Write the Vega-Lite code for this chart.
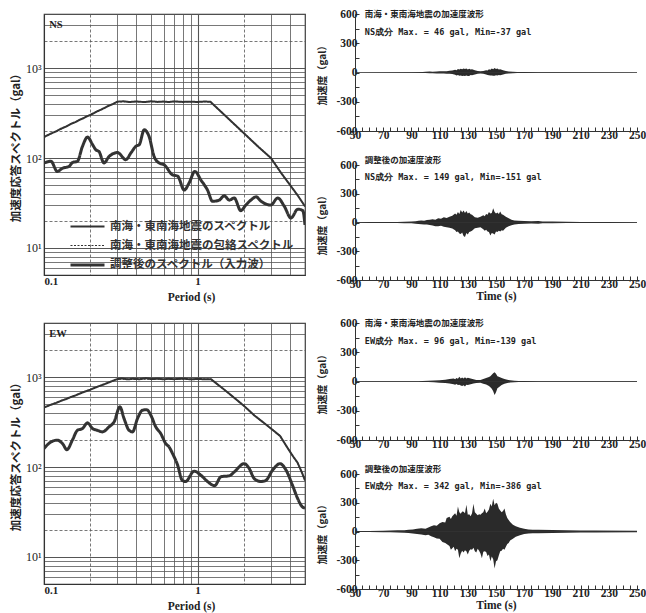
{
  "$schema": "https://vega.github.io/schema/vega-lite/v6.json",
  "background": "white",
  "padding": {"left": 9, "top": 7, "right": 0, "bottom": 0},
  "datasets": {
    "spec": [
      {"c":"NS","s":"S","T":0.1,"Sa":171},{"c":"NS","s":"S","T":0.11,"Sa":186},{"c":"NS","s":"S","T":0.12,"Sa":198},{"c":"NS","s":"S","T":0.13,"Sa":213},{"c":"NS","s":"S","T":0.14,"Sa":225},{"c":"NS","s":"S","T":0.15,"Sa":240},{"c":"NS","s":"S","T":0.16,"Sa":251},{"c":"NS","s":"S","T":0.17,"Sa":266},{"c":"NS","s":"S","T":0.18,"Sa":277},{"c":"NS","s":"S","T":0.19,"Sa":291},{"c":"NS","s":"S","T":0.2,"Sa":301},{"c":"NS","s":"S","T":0.22,"Sa":328},{"c":"NS","s":"S","T":0.24,"Sa":351},{"c":"NS","s":"S","T":0.26,"Sa":377},{"c":"NS","s":"S","T":0.28,"Sa":398},{"c":"NS","s":"S","T":0.3,"Sa":423},{"c":"NS","s":"S","T":0.33,"Sa":428},{"c":"NS","s":"S","T":0.36,"Sa":420},{"c":"NS","s":"S","T":0.4,"Sa":426},{"c":"NS","s":"S","T":0.45,"Sa":419},{"c":"NS","s":"S","T":0.5,"Sa":428},{"c":"NS","s":"S","T":0.55,"Sa":421},{"c":"NS","s":"S","T":0.6,"Sa":425},{"c":"NS","s":"S","T":0.65,"Sa":420},{"c":"NS","s":"S","T":0.7,"Sa":427},{"c":"NS","s":"S","T":0.8,"Sa":421},{"c":"NS","s":"S","T":0.9,"Sa":424},{"c":"NS","s":"S","T":1.0,"Sa":420},{"c":"NS","s":"S","T":1.1,"Sa":425},{"c":"NS","s":"S","T":1.21,"Sa":423},{"c":"NS","s":"S","T":1.5,"Sa":300},{"c":"NS","s":"S","T":2.0,"Sa":189},{"c":"NS","s":"S","T":2.5,"Sa":132},{"c":"NS","s":"S","T":3.0,"Sa":100},{"c":"NS","s":"S","T":3.5,"Sa":68},{"c":"NS","s":"S","T":4.0,"Sa":50},{"c":"NS","s":"S","T":4.5,"Sa":38},{"c":"NS","s":"S","T":5.0,"Sa":29},
      {"c":"NS","s":"E","T":0.1,"Sa":171},{"c":"NS","s":"E","T":0.3,"Sa":423},{"c":"NS","s":"E","T":1.21,"Sa":423},{"c":"NS","s":"E","T":1.5,"Sa":300},{"c":"NS","s":"E","T":2.0,"Sa":189},{"c":"NS","s":"E","T":2.5,"Sa":132},{"c":"NS","s":"E","T":3.0,"Sa":100},{"c":"NS","s":"E","T":3.5,"Sa":68},{"c":"NS","s":"E","T":4.0,"Sa":50},{"c":"NS","s":"E","T":4.5,"Sa":38},{"c":"NS","s":"E","T":5.0,"Sa":29},
      {"c":"NS","s":"A","T":0.1,"Sa":88},{"c":"NS","s":"A","T":0.111,"Sa":92},{"c":"NS","s":"A","T":0.122,"Sa":71},{"c":"NS","s":"A","T":0.132,"Sa":77},{"c":"NS","s":"A","T":0.146,"Sa":81},{"c":"NS","s":"A","T":0.153,"Sa":89},{"c":"NS","s":"A","T":0.165,"Sa":92},{"c":"NS","s":"A","T":0.178,"Sa":135},{"c":"NS","s":"A","T":0.192,"Sa":171},{"c":"NS","s":"A","T":0.207,"Sa":141},{"c":"NS","s":"A","T":0.217,"Sa":124},{"c":"NS","s":"A","T":0.228,"Sa":118},{"c":"NS","s":"A","T":0.246,"Sa":88},{"c":"NS","s":"A","T":0.265,"Sa":104},{"c":"NS","s":"A","T":0.301,"Sa":115},{"c":"NS","s":"A","T":0.341,"Sa":96},{"c":"NS","s":"A","T":0.368,"Sa":114},{"c":"NS","s":"A","T":0.396,"Sa":135},{"c":"NS","s":"A","T":0.417,"Sa":141},{"c":"NS","s":"A","T":0.449,"Sa":206},{"c":"NS","s":"A","T":0.483,"Sa":174},{"c":"NS","s":"A","T":0.521,"Sa":104},{"c":"NS","s":"A","T":0.562,"Sa":88},{"c":"NS","s":"A","T":0.606,"Sa":84},{"c":"NS","s":"A","T":0.687,"Sa":65},{"c":"NS","s":"A","T":0.741,"Sa":63},{"c":"NS","s":"A","T":0.818,"Sa":44},{"c":"NS","s":"A","T":0.881,"Sa":53},{"c":"NS","s":"A","T":0.96,"Sa":71},{"c":"NS","s":"A","T":1.05,"Sa":57},{"c":"NS","s":"A","T":1.16,"Sa":44},{"c":"NS","s":"A","T":1.25,"Sa":33},{"c":"NS","s":"A","T":1.38,"Sa":34},{"c":"NS","s":"A","T":1.49,"Sa":38},{"c":"NS","s":"A","T":1.61,"Sa":34},{"c":"NS","s":"A","T":1.73,"Sa":36},{"c":"NS","s":"A","T":1.91,"Sa":26},{"c":"NS","s":"A","T":2.06,"Sa":30},{"c":"NS","s":"A","T":2.22,"Sa":34},{"c":"NS","s":"A","T":2.4,"Sa":37},{"c":"NS","s":"A","T":2.59,"Sa":33},{"c":"NS","s":"A","T":3.0,"Sa":30},{"c":"NS","s":"A","T":3.32,"Sa":36},{"c":"NS","s":"A","T":3.67,"Sa":29},{"c":"NS","s":"A","T":4.05,"Sa":21.5},{"c":"NS","s":"A","T":4.49,"Sa":27},{"c":"NS","s":"A","T":4.84,"Sa":26},{"c":"NS","s":"A","T":5.0,"Sa":18},
      {"c":"EW","s":"S","T":0.1,"Sa":460},{"c":"EW","s":"S","T":0.11,"Sa":491},{"c":"EW","s":"S","T":0.12,"Sa":517},{"c":"EW","s":"S","T":0.13,"Sa":548},{"c":"EW","s":"S","T":0.14,"Sa":572},{"c":"EW","s":"S","T":0.15,"Sa":602},{"c":"EW","s":"S","T":0.16,"Sa":625},{"c":"EW","s":"S","T":0.18,"Sa":680},{"c":"EW","s":"S","T":0.2,"Sa":725},{"c":"EW","s":"S","T":0.22,"Sa":776},{"c":"EW","s":"S","T":0.25,"Sa":840},{"c":"EW","s":"S","T":0.28,"Sa":910},{"c":"EW","s":"S","T":0.3,"Sa":950},{"c":"EW","s":"S","T":0.32,"Sa":968},{"c":"EW","s":"S","T":0.35,"Sa":945},{"c":"EW","s":"S","T":0.38,"Sa":958},{"c":"EW","s":"S","T":0.42,"Sa":948},{"c":"EW","s":"S","T":0.46,"Sa":975},{"c":"EW","s":"S","T":0.5,"Sa":950},{"c":"EW","s":"S","T":0.55,"Sa":962},{"c":"EW","s":"S","T":0.6,"Sa":945},{"c":"EW","s":"S","T":0.65,"Sa":958},{"c":"EW","s":"S","T":0.7,"Sa":948},{"c":"EW","s":"S","T":0.8,"Sa":962},{"c":"EW","s":"S","T":0.9,"Sa":945},{"c":"EW","s":"S","T":1.0,"Sa":955},{"c":"EW","s":"S","T":1.1,"Sa":948},{"c":"EW","s":"S","T":1.22,"Sa":950},{"c":"EW","s":"S","T":1.5,"Sa":720},{"c":"EW","s":"S","T":1.75,"Sa":580},{"c":"EW","s":"S","T":2.0,"Sa":480},{"c":"EW","s":"S","T":2.34,"Sa":375},{"c":"EW","s":"S","T":2.8,"Sa":295},{"c":"EW","s":"S","T":3.44,"Sa":222},{"c":"EW","s":"S","T":3.86,"Sa":162},{"c":"EW","s":"S","T":4.2,"Sa":130},{"c":"EW","s":"S","T":4.47,"Sa":112},{"c":"EW","s":"S","T":4.8,"Sa":85},{"c":"EW","s":"S","T":5.0,"Sa":71},
      {"c":"EW","s":"E","T":0.1,"Sa":460},{"c":"EW","s":"E","T":0.3,"Sa":950},{"c":"EW","s":"E","T":1.22,"Sa":950},{"c":"EW","s":"E","T":1.5,"Sa":720},{"c":"EW","s":"E","T":1.75,"Sa":580},{"c":"EW","s":"E","T":2.0,"Sa":480},{"c":"EW","s":"E","T":2.34,"Sa":375},{"c":"EW","s":"E","T":2.8,"Sa":295},{"c":"EW","s":"E","T":3.44,"Sa":222},{"c":"EW","s":"E","T":3.86,"Sa":162},{"c":"EW","s":"E","T":4.2,"Sa":130},{"c":"EW","s":"E","T":4.47,"Sa":112},{"c":"EW","s":"E","T":4.8,"Sa":85},{"c":"EW","s":"E","T":5.0,"Sa":71},
      {"c":"EW","s":"A","T":0.1,"Sa":161},{"c":"EW","s":"A","T":0.111,"Sa":190},{"c":"EW","s":"A","T":0.122,"Sa":199},{"c":"EW","s":"A","T":0.132,"Sa":182},{"c":"EW","s":"A","T":0.141,"Sa":156},{"c":"EW","s":"A","T":0.153,"Sa":199},{"c":"EW","s":"A","T":0.165,"Sa":256},{"c":"EW","s":"A","T":0.178,"Sa":268},{"c":"EW","s":"A","T":0.192,"Sa":310},{"c":"EW","s":"A","T":0.207,"Sa":268},{"c":"EW","s":"A","T":0.223,"Sa":256},{"c":"EW","s":"A","T":0.24,"Sa":246},{"c":"EW","s":"A","T":0.265,"Sa":280},{"c":"EW","s":"A","T":0.286,"Sa":318},{"c":"EW","s":"A","T":0.312,"Sa":467},{"c":"EW","s":"A","T":0.332,"Sa":346},{"c":"EW","s":"A","T":0.358,"Sa":256},{"c":"EW","s":"A","T":0.377,"Sa":246},{"c":"EW","s":"A","T":0.406,"Sa":346},{"c":"EW","s":"A","T":0.437,"Sa":428},{"c":"EW","s":"A","T":0.466,"Sa":435},{"c":"EW","s":"A","T":0.496,"Sa":377},{"c":"EW","s":"A","T":0.534,"Sa":280},{"c":"EW","s":"A","T":0.576,"Sa":235},{"c":"EW","s":"A","T":0.62,"Sa":182},{"c":"EW","s":"A","T":0.651,"Sa":168},{"c":"EW","s":"A","T":0.687,"Sa":141},{"c":"EW","s":"A","T":0.741,"Sa":105},{"c":"EW","s":"A","T":0.795,"Sa":71},{"c":"EW","s":"A","T":0.834,"Sa":69},{"c":"EW","s":"A","T":0.949,"Sa":90},{"c":"EW","s":"A","T":1.05,"Sa":81},{"c":"EW","s":"A","T":1.16,"Sa":69},{"c":"EW","s":"A","T":1.29,"Sa":62},{"c":"EW","s":"A","T":1.42,"Sa":78},{"c":"EW","s":"A","T":1.61,"Sa":80},{"c":"EW","s":"A","T":1.73,"Sa":88},{"c":"EW","s":"A","T":2.01,"Sa":109},{"c":"EW","s":"A","T":2.17,"Sa":96},{"c":"EW","s":"A","T":2.34,"Sa":74},{"c":"EW","s":"A","T":2.59,"Sa":69},{"c":"EW","s":"A","T":2.78,"Sa":71},{"c":"EW","s":"A","T":3.07,"Sa":92},{"c":"EW","s":"A","T":3.44,"Sa":109},{"c":"EW","s":"A","T":3.77,"Sa":92},{"c":"EW","s":"A","T":4.14,"Sa":63},{"c":"EW","s":"A","T":4.47,"Sa":45},{"c":"EW","s":"A","T":4.81,"Sa":36},{"c":"EW","s":"A","T":5.0,"Sa":35}
    ],
    "wave": [
      {"c":"NS","k":"o","t":50,"hi":1,"lo":-1},{"c":"NS","k":"o","t":90,"hi":2,"lo":-2},{"c":"NS","k":"o","t":95,"hi":4,"lo":-3},{"c":"NS","k":"o","t":98,"hi":6,"lo":-5},{"c":"NS","k":"o","t":100,"hi":7,"lo":-6},{"c":"NS","k":"o","t":103,"hi":9,"lo":-7},{"c":"NS","k":"o","t":105,"hi":8,"lo":-8},{"c":"NS","k":"o","t":108,"hi":11,"lo":-9},{"c":"NS","k":"o","t":110,"hi":12,"lo":-10},{"c":"NS","k":"o","t":113,"hi":14,"lo":-11},{"c":"NS","k":"o","t":115,"hi":13,"lo":-12},{"c":"NS","k":"o","t":117,"hi":17,"lo":-14},{"c":"NS","k":"o","t":119,"hi":20,"lo":-16},{"c":"NS","k":"o","t":121,"hi":28,"lo":-22},{"c":"NS","k":"o","t":122,"hi":22,"lo":-30},{"c":"NS","k":"o","t":123,"hi":35,"lo":-26},{"c":"NS","k":"o","t":124,"hi":30,"lo":-34},{"c":"NS","k":"o","t":125,"hi":38,"lo":-30},{"c":"NS","k":"o","t":126,"hi":33,"lo":-36},{"c":"NS","k":"o","t":127,"hi":42,"lo":-33},{"c":"NS","k":"o","t":128,"hi":36,"lo":-37},{"c":"NS","k":"o","t":129,"hi":40,"lo":-31},{"c":"NS","k":"o","t":130,"hi":32,"lo":-35},{"c":"NS","k":"o","t":131,"hi":38,"lo":-36},{"c":"NS","k":"o","t":132,"hi":30,"lo":-26},{"c":"NS","k":"o","t":133,"hi":33,"lo":-28},{"c":"NS","k":"o","t":135,"hi":22,"lo":-20},{"c":"NS","k":"o","t":137,"hi":15,"lo":-14},{"c":"NS","k":"o","t":139,"hi":12,"lo":-10},{"c":"NS","k":"o","t":141,"hi":16,"lo":-12},{"c":"NS","k":"o","t":143,"hi":24,"lo":-20},{"c":"NS","k":"o","t":144,"hi":20,"lo":-26},{"c":"NS","k":"o","t":145,"hi":34,"lo":-28},{"c":"NS","k":"o","t":146,"hi":28,"lo":-32},{"c":"NS","k":"o","t":147,"hi":40,"lo":-30},{"c":"NS","k":"o","t":148,"hi":34,"lo":-33},{"c":"NS","k":"o","t":149,"hi":46,"lo":-34},{"c":"NS","k":"o","t":150,"hi":36,"lo":-28},{"c":"NS","k":"o","t":151,"hi":40,"lo":-30},{"c":"NS","k":"o","t":152,"hi":30,"lo":-25},{"c":"NS","k":"o","t":153,"hi":34,"lo":-28},{"c":"NS","k":"o","t":155,"hi":24,"lo":-20},{"c":"NS","k":"o","t":157,"hi":15,"lo":-13},{"c":"NS","k":"o","t":159,"hi":10,"lo":-9},{"c":"NS","k":"o","t":162,"hi":8,"lo":-7},{"c":"NS","k":"o","t":165,"hi":6,"lo":-5},{"c":"NS","k":"o","t":170,"hi":5,"lo":-4},{"c":"NS","k":"o","t":175,"hi":4,"lo":-3},{"c":"NS","k":"o","t":180,"hi":3,"lo":-3},{"c":"NS","k":"o","t":190,"hi":2,"lo":-2},{"c":"NS","k":"o","t":250,"hi":1,"lo":-1},
      {"c":"NS","k":"a","t":50,"hi":3,"lo":-3},{"c":"NS","k":"a","t":60,"hi":4,"lo":-4},{"c":"NS","k":"a","t":70,"hi":5,"lo":-5},{"c":"NS","k":"a","t":80,"hi":6,"lo":-6},{"c":"NS","k":"a","t":85,"hi":8,"lo":-7},{"c":"NS","k":"a","t":90,"hi":10,"lo":-9},{"c":"NS","k":"a","t":93,"hi":14,"lo":-12},{"c":"NS","k":"a","t":95,"hi":17,"lo":-15},{"c":"NS","k":"a","t":97,"hi":22,"lo":-18},{"c":"NS","k":"a","t":99,"hi":18,"lo":-20},{"c":"NS","k":"a","t":101,"hi":25,"lo":-22},{"c":"NS","k":"a","t":103,"hi":30,"lo":-26},{"c":"NS","k":"a","t":105,"hi":35,"lo":-30},{"c":"NS","k":"a","t":107,"hi":30,"lo":-38},{"c":"NS","k":"a","t":109,"hi":45,"lo":-40},{"c":"NS","k":"a","t":111,"hi":40,"lo":-35},{"c":"NS","k":"a","t":113,"hi":55,"lo":-45},{"c":"NS","k":"a","t":115,"hi":48,"lo":-50},{"c":"NS","k":"a","t":117,"hi":60,"lo":-55},{"c":"NS","k":"a","t":119,"hi":70,"lo":-62},{"c":"NS","k":"a","t":121,"hi":95,"lo":-80},{"c":"NS","k":"a","t":122,"hi":80,"lo":-100},{"c":"NS","k":"a","t":123,"hi":110,"lo":-95},{"c":"NS","k":"a","t":124,"hi":90,"lo":-115},{"c":"NS","k":"a","t":125,"hi":130,"lo":-120},{"c":"NS","k":"a","t":126,"hi":105,"lo":-105},{"c":"NS","k":"a","t":127,"hi":125,"lo":-140},{"c":"NS","k":"a","t":128,"hi":100,"lo":-151},{"c":"NS","k":"a","t":129,"hi":120,"lo":-110},{"c":"NS","k":"a","t":130,"hi":95,"lo":-125},{"c":"NS","k":"a","t":131,"hi":105,"lo":-100},{"c":"NS","k":"a","t":132,"hi":85,"lo":-95},{"c":"NS","k":"a","t":133,"hi":80,"lo":-85},{"c":"NS","k":"a","t":135,"hi":55,"lo":-60},{"c":"NS","k":"a","t":137,"hi":50,"lo":-55},{"c":"NS","k":"a","t":139,"hi":60,"lo":-50},{"c":"NS","k":"a","t":141,"hi":75,"lo":-70},{"c":"NS","k":"a","t":142,"hi":65,"lo":-85},{"c":"NS","k":"a","t":143,"hi":90,"lo":-75},{"c":"NS","k":"a","t":144,"hi":80,"lo":-95},{"c":"NS","k":"a","t":145,"hi":110,"lo":-100},{"c":"NS","k":"a","t":146,"hi":95,"lo":-135},{"c":"NS","k":"a","t":147,"hi":100,"lo":-110},{"c":"NS","k":"a","t":148,"hi":149,"lo":-115},{"c":"NS","k":"a","t":149,"hi":110,"lo":-125},{"c":"NS","k":"a","t":150,"hi":95,"lo":-95},{"c":"NS","k":"a","t":151,"hi":105,"lo":-100},{"c":"NS","k":"a","t":152,"hi":90,"lo":-85},{"c":"NS","k":"a","t":153,"hi":115,"lo":-95},{"c":"NS","k":"a","t":154,"hi":85,"lo":-80},{"c":"NS","k":"a","t":155,"hi":80,"lo":-85},{"c":"NS","k":"a","t":157,"hi":60,"lo":-55},{"c":"NS","k":"a","t":159,"hi":45,"lo":-40},{"c":"NS","k":"a","t":161,"hi":30,"lo":-28},{"c":"NS","k":"a","t":163,"hi":22,"lo":-20},{"c":"NS","k":"a","t":166,"hi":18,"lo":-16},{"c":"NS","k":"a","t":170,"hi":15,"lo":-13},{"c":"NS","k":"a","t":175,"hi":12,"lo":-11},{"c":"NS","k":"a","t":180,"hi":16,"lo":-14},{"c":"NS","k":"a","t":183,"hi":10,"lo":-9},{"c":"NS","k":"a","t":190,"hi":10,"lo":-9},{"c":"NS","k":"a","t":200,"hi":7,"lo":-6},{"c":"NS","k":"a","t":210,"hi":5,"lo":-5},{"c":"NS","k":"a","t":230,"hi":4,"lo":-4},{"c":"NS","k":"a","t":250,"hi":3,"lo":-3},
      {"c":"EW","k":"o","t":50,"hi":1.5,"lo":-1.5},{"c":"EW","k":"o","t":95,"hi":2,"lo":-2},{"c":"EW","k":"o","t":98,"hi":4,"lo":-4},{"c":"EW","k":"o","t":102,"hi":7,"lo":-6},{"c":"EW","k":"o","t":106,"hi":10,"lo":-8},{"c":"EW","k":"o","t":110,"hi":14,"lo":-12},{"c":"EW","k":"o","t":114,"hi":18,"lo":-16},{"c":"EW","k":"o","t":117,"hi":25,"lo":-20},{"c":"EW","k":"o","t":120,"hi":30,"lo":-28},{"c":"EW","k":"o","t":121,"hi":22,"lo":-34},{"c":"EW","k":"o","t":122,"hi":36,"lo":-26},{"c":"EW","k":"o","t":123,"hi":28,"lo":-36},{"c":"EW","k":"o","t":124,"hi":48,"lo":-34},{"c":"EW","k":"o","t":125,"hi":30,"lo":-40},{"c":"EW","k":"o","t":126,"hi":40,"lo":-45},{"c":"EW","k":"o","t":127,"hi":32,"lo":-38},{"c":"EW","k":"o","t":128,"hi":44,"lo":-51},{"c":"EW","k":"o","t":129,"hi":30,"lo":-34},{"c":"EW","k":"o","t":130,"hi":38,"lo":-36},{"c":"EW","k":"o","t":132,"hi":30,"lo":-28},{"c":"EW","k":"o","t":134,"hi":22,"lo":-20},{"c":"EW","k":"o","t":136,"hi":16,"lo":-15},{"c":"EW","k":"o","t":139,"hi":15,"lo":-14},{"c":"EW","k":"o","t":141,"hi":25,"lo":-22},{"c":"EW","k":"o","t":143,"hi":35,"lo":-32},{"c":"EW","k":"o","t":145,"hi":45,"lo":-45},{"c":"EW","k":"o","t":146,"hi":55,"lo":-60},{"c":"EW","k":"o","t":147,"hi":68,"lo":-75},{"c":"EW","k":"o","t":148,"hi":85,"lo":-100},{"c":"EW","k":"o","t":149,"hi":96,"lo":-139},{"c":"EW","k":"o","t":150,"hi":80,"lo":-110},{"c":"EW","k":"o","t":151,"hi":55,"lo":-70},{"c":"EW","k":"o","t":152,"hi":50,"lo":-60},{"c":"EW","k":"o","t":154,"hi":35,"lo":-35},{"c":"EW","k":"o","t":156,"hi":25,"lo":-24},{"c":"EW","k":"o","t":158,"hi":18,"lo":-16},{"c":"EW","k":"o","t":160,"hi":12,"lo":-11},{"c":"EW","k":"o","t":163,"hi":8,"lo":-7},{"c":"EW","k":"o","t":166,"hi":5,"lo":-5},{"c":"EW","k":"o","t":170,"hi":4,"lo":-4},{"c":"EW","k":"o","t":180,"hi":3,"lo":-3},{"c":"EW","k":"o","t":250,"hi":2,"lo":-2},
      {"c":"EW","k":"a","t":50,"hi":5,"lo":-5},{"c":"EW","k":"a","t":60,"hi":6,"lo":-6},{"c":"EW","k":"a","t":70,"hi":8,"lo":-7},{"c":"EW","k":"a","t":75,"hi":10,"lo":-9},{"c":"EW","k":"a","t":80,"hi":12,"lo":-11},{"c":"EW","k":"a","t":85,"hi":14,"lo":-12},{"c":"EW","k":"a","t":88,"hi":18,"lo":-16},{"c":"EW","k":"a","t":91,"hi":22,"lo":-20},{"c":"EW","k":"a","t":94,"hi":30,"lo":-25},{"c":"EW","k":"a","t":97,"hi":35,"lo":-32},{"c":"EW","k":"a","t":100,"hi":30,"lo":-38},{"c":"EW","k":"a","t":102,"hi":42,"lo":-35},{"c":"EW","k":"a","t":104,"hi":55,"lo":-50},{"c":"EW","k":"a","t":106,"hi":65,"lo":-60},{"c":"EW","k":"a","t":108,"hi":60,"lo":-72},{"c":"EW","k":"a","t":110,"hi":85,"lo":-75},{"c":"EW","k":"a","t":112,"hi":100,"lo":-110},{"c":"EW","k":"a","t":114,"hi":95,"lo":-120},{"c":"EW","k":"a","t":115,"hi":140,"lo":-130},{"c":"EW","k":"a","t":117,"hi":155,"lo":-150},{"c":"EW","k":"a","t":118,"hi":130,"lo":-190},{"c":"EW","k":"a","t":119,"hi":160,"lo":-175},{"c":"EW","k":"a","t":120,"hi":175,"lo":-160},{"c":"EW","k":"a","t":121,"hi":190,"lo":-205},{"c":"EW","k":"a","t":122,"hi":165,"lo":-180},{"c":"EW","k":"a","t":123,"hi":260,"lo":-190},{"c":"EW","k":"a","t":124,"hi":200,"lo":-280},{"c":"EW","k":"a","t":125,"hi":185,"lo":-230},{"c":"EW","k":"a","t":126,"hi":210,"lo":-200},{"c":"EW","k":"a","t":127,"hi":205,"lo":-220},{"c":"EW","k":"a","t":128,"hi":190,"lo":-195},{"c":"EW","k":"a","t":129,"hi":280,"lo":-205},{"c":"EW","k":"a","t":130,"hi":175,"lo":-240},{"c":"EW","k":"a","t":131,"hi":180,"lo":-200},{"c":"EW","k":"a","t":132,"hi":160,"lo":-185},{"c":"EW","k":"a","t":133,"hi":190,"lo":-190},{"c":"EW","k":"a","t":134,"hi":290,"lo":-170},{"c":"EW","k":"a","t":135,"hi":200,"lo":-205},{"c":"EW","k":"a","t":136,"hi":185,"lo":-220},{"c":"EW","k":"a","t":137,"hi":170,"lo":-180},{"c":"EW","k":"a","t":138,"hi":180,"lo":-200},{"c":"EW","k":"a","t":139,"hi":175,"lo":-230},{"c":"EW","k":"a","t":140,"hi":190,"lo":-280},{"c":"EW","k":"a","t":141,"hi":200,"lo":-210},{"c":"EW","k":"a","t":142,"hi":240,"lo":-205},{"c":"EW","k":"a","t":143,"hi":190,"lo":-215},{"c":"EW","k":"a","t":144,"hi":205,"lo":-255},{"c":"EW","k":"a","t":145,"hi":230,"lo":-240},{"c":"EW","k":"a","t":146,"hi":290,"lo":-310},{"c":"EW","k":"a","t":147,"hi":260,"lo":-260},{"c":"EW","k":"a","t":148,"hi":342,"lo":-290},{"c":"EW","k":"a","t":149,"hi":275,"lo":-386},{"c":"EW","k":"a","t":150,"hi":300,"lo":-310},{"c":"EW","k":"a","t":151,"hi":290,"lo":-300},{"c":"EW","k":"a","t":152,"hi":240,"lo":-250},{"c":"EW","k":"a","t":153,"hi":220,"lo":-205},{"c":"EW","k":"a","t":154,"hi":200,"lo":-200},{"c":"EW","k":"a","t":155,"hi":215,"lo":-180},{"c":"EW","k":"a","t":156,"hi":240,"lo":-190},{"c":"EW","k":"a","t":157,"hi":180,"lo":-160},{"c":"EW","k":"a","t":158,"hi":140,"lo":-130},{"c":"EW","k":"a","t":159,"hi":120,"lo":-120},{"c":"EW","k":"a","t":160,"hi":100,"lo":-95},{"c":"EW","k":"a","t":162,"hi":70,"lo":-75},{"c":"EW","k":"a","t":164,"hi":55,"lo":-55},{"c":"EW","k":"a","t":167,"hi":40,"lo":-40},{"c":"EW","k":"a","t":170,"hi":28,"lo":-26},{"c":"EW","k":"a","t":173,"hi":22,"lo":-22},{"c":"EW","k":"a","t":176,"hi":18,"lo":-18},{"c":"EW","k":"a","t":180,"hi":17,"lo":-17},{"c":"EW","k":"a","t":190,"hi":16,"lo":-15},{"c":"EW","k":"a","t":200,"hi":14,"lo":-14},{"c":"EW","k":"a","t":210,"hi":11,"lo":-11},{"c":"EW","k":"a","t":220,"hi":10,"lo":-10},{"c":"EW","k":"a","t":250,"hi":9,"lo":-9}
    ]
  },
  "config": {
    "view": {"stroke": null},
    "axis": {"labelFont": "Liberation Serif", "labelFontWeight": "bold", "labelFontSize": 11, "labelColor": "#222", "titleColor": "#222", "domainColor": "#333", "tickColor": "#333", "grid": false, "labelOverlap": false}
  },
  "spacing": 12,
  "vconcat": [
    {
      "spacing": 11,
      "hconcat": [
        {
          "width": 261, "height": 261,
          "view": {"stroke": "#333", "strokeWidth": 1.2},
          "layer": [
            {
              "data": {"name": "spec"},
              "transform": [{"filter": "datum.c == 'NS' && datum.s != 'A'"}],
              "mark": {"type": "line", "color": "#333", "clip": true},
              "encoding": {
                "x": {"field": "T", "type": "quantitative", "scale": {"type": "log", "domain": [0.1, 5], "nice": false},
                  "axis": {"title": "Period (s)", "tickCount": 100, "values": [0.1,0.2,0.3,0.4,0.5,0.6,0.7,0.8,0.9,1,2,3,4,5], "labelExpr": "datum.value == 0.1 ? '0.1' : datum.value == 1 ? '1' : ''", "grid": true, "ticks": false, "labelPadding": 0, "labelOverlap": false, "titleFont": "Liberation Serif", "titleFontWeight": "bold", "titleFontSize": 11.5, "titlePadding": 5, "titleX": 147, "gridColor": "#555", "gridWidth": {"condition": {"test": "datum.value == 0.1 || datum.value == 1", "value": 1.1}, "value": 0.8}, "gridDash": {"condition": {"test": "datum.value == 0.2 || datum.value == 2", "value": [3, 2]}, "value": []}}},
                "y": {"field": "Sa", "type": "quantitative", "scale": {"type": "log", "domain": [5, 4000], "nice": false},
                  "axis": {"title": "加速度応答スペクトル（gal）", "tickCount": 100, "values": [5,6,7,8,9,10,20,30,40,50,60,70,80,90,100,200,300,400,500,600,700,800,900,1000,2000,3000,4000], "labelExpr": "datum.value == 10 ? '10¹' : datum.value == 100 ? '10²' : datum.value == 1000 ? '10³' : ''", "grid": true, "ticks": false, "labelPadding": 3, "labelOverlap": false, "labelFontWeight": "normal", "labelFontSize": 12, "titleFont": "Noto Sans CJK JP", "titleFontWeight": "bold", "titleFontSize": 11.5, "titlePadding": 4, "gridColor": "#555", "gridWidth": {"condition": {"test": "datum.value == 10 || datum.value == 100 || datum.value == 1000", "value": 1.1}, "value": 0.8}, "gridDash": {"condition": {"test": "datum.value == 20 || datum.value == 200 || datum.value == 2000", "value": [3, 2]}, "value": []}}},
                "strokeDash": {"field": "s", "type": "nominal", "scale": {"domain": ["S","E","A"], "range": [[1,0],[2,1.5],[1,0]]},
                  "legend": {"title": null, "orient": "none", "legendX": 25, "legendY": 203, "symbolType": "M-1,0H3", "symbolSize": 289, "symbolStrokeColor": "#333", "symbolFillColor": "transparent", "labelFont": "Noto Sans CJK JP", "labelFontSize": 11.5, "labelFontWeight": "bold", "labelColor": "#333", "labelOffset": 21, "labelLimit": 300, "rowPadding": 4, "padding": 0, "labelExpr": "datum.label == 'S' ? '南海・東南海地震のスペクトル' : datum.label == 'E' ? '南海・東南海地震の包絡スペクトル' : '調整後のスペクトル（入力波）'"}},
                "strokeWidth": {"field": "s", "type": "nominal", "scale": {"type": "ordinal", "domain": ["S","E","A"], "range": [2, 1.2, 3]},
                  "legend": {"title": null, "orient": "none", "legendX": 25, "legendY": 203, "symbolType": "M-1,0H3", "symbolSize": 289, "symbolStrokeColor": "#333", "symbolFillColor": "transparent", "labelFont": "Noto Sans CJK JP", "labelFontSize": 11.5, "labelFontWeight": "bold", "labelColor": "#333", "labelOffset": 21, "labelLimit": 300, "rowPadding": 4, "padding": 0, "labelExpr": "datum.label == 'S' ? '南海・東南海地震のスペクトル' : datum.label == 'E' ? '南海・東南海地震の包絡スペクトル' : '調整後のスペクトル（入力波）'"}}
              }
            },
            {
              "data": {"name": "spec"},
              "transform": [{"filter": "datum.c == 'NS' && datum.s == 'A'"}],
              "mark": {"type": "line", "color": "#333", "interpolate": "monotone", "clip": true},
              "encoding": {
                "x": {"field": "T", "type": "quantitative"},
                "y": {"field": "Sa", "type": "quantitative"},
                "strokeDash": {"field": "s", "type": "nominal", "scale": {"domain": ["S","E","A"], "range": [[1,0],[2,1.5],[1,0]]},
                  "legend": {"title": null, "orient": "none", "legendX": 25, "legendY": 203, "symbolType": "M-1,0H3", "symbolSize": 289, "symbolStrokeColor": "#333", "symbolFillColor": "transparent", "labelFont": "Noto Sans CJK JP", "labelFontSize": 11.5, "labelFontWeight": "bold", "labelColor": "#333", "labelOffset": 21, "labelLimit": 300, "rowPadding": 4, "padding": 0, "labelExpr": "datum.label == 'S' ? '南海・東南海地震のスペクトル' : datum.label == 'E' ? '南海・東南海地震の包絡スペクトル' : '調整後のスペクトル（入力波）'"}},
                "strokeWidth": {"field": "s", "type": "nominal", "scale": {"type": "ordinal", "domain": ["S","E","A"], "range": [2, 1.2, 3]},
                  "legend": {"title": null, "orient": "none", "legendX": 25, "legendY": 203, "symbolType": "M-1,0H3", "symbolSize": 289, "symbolStrokeColor": "#333", "symbolFillColor": "transparent", "labelFont": "Noto Sans CJK JP", "labelFontSize": 11.5, "labelFontWeight": "bold", "labelColor": "#333", "labelOffset": 21, "labelLimit": 300, "rowPadding": 4, "padding": 0, "labelExpr": "datum.label == 'S' ? '南海・東南海地震のスペクトル' : datum.label == 'E' ? '南海・東南海地震の包絡スペクトル' : '調整後のスペクトル（入力波）'"}}
              }
            },
            {
              "data": {"values": [{}]},
              "mark": {"type": "text", "font": "Liberation Serif", "fontWeight": "bold", "fontSize": 10.5, "align": "left", "baseline": "middle", "color": "#222"},
              "encoding": {"x": {"datum": 0.108}, "y": {"datum": 3000}, "text": {"value": "NS"}}
            }
          ]
        },
        {
          "spacing": 15,
          "vconcat": [
            {
              "width": 282, "height": 117,
              "layer": [
                {
                  "data": {"name": "wave"},
                  "transform": [{"filter": "datum.c == 'NS' && datum.k == 'o'"}],
                  "mark": {"type": "area", "color": "#2a2a2a"},
                  "encoding": {
                    "x": {"field": "t", "type": "quantitative", "scale": {"domain": [50, 250], "nice": false},
                      "axis": {"title": null, "tickCount": 100, "values": [50,55,60,65,70,75,80,85,90,95,100,105,110,115,120,125,130,135,140,145,150,155,160,165,170,175,180,185,190,195,200,205,210,215,220,225,230,235,240,245,250], "labelExpr": "datum.value % 20 == 10 ? '' + datum.value : ''", "tickSize": -4, "labelPadding": 2, "labelFlush": false, "labelOverlap": false, "labelFontSize": 11.5}},
                    "y": {"field": "hi", "type": "quantitative", "scale": {"domain": [-600, 600], "nice": false},
                      "axis": {"title": "加速度（gal）", "tickCount": 100, "values": [-600,-450,-300,-150,0,150,300,450,600], "labelExpr": "datum.value % 300 == 0 ? '' + datum.value : ''", "tickSize": -4, "labelPadding": 2, "labelOverlap": false, "labelFontSize": 11.5, "titleFont": "Noto Sans CJK JP", "titleFontSize": 10, "titleFontWeight": "bold", "titlePadding": 8}},
                    "y2": {"field": "lo"}
                  }
                },
                {"data": {"values": [{}]}, "mark": {"type": "rule", "color": "#333", "strokeWidth": 0.8}, "encoding": {"y": {"datum": 0}}},
                {"data": {"values": [{}]}, "mark": {"type": "text", "font": "Noto Sans CJK JP", "fontWeight": "bold", "fontSize": 8.5, "align": "left", "baseline": "middle", "color": "#222"}, "encoding": {"x": {"datum": 57}, "y": {"datum": 595}, "text": {"value": "南海・東南海地震の加速度波形"}}},
                {"data": {"values": [{}]}, "mark": {"type": "text", "font": "DejaVu Sans Mono", "fontWeight": "bold", "fontSize": 8.5, "align": "left", "baseline": "middle", "color": "#222"}, "encoding": {"x": {"datum": 57}, "y": {"datum": 420}, "text": {"value": "NS成分  Max. = 46  gal, Min=-37  gal"}}}
              ]
            },
            {
              "width": 282, "height": 115,
              "layer": [
                {
                  "data": {"name": "wave"},
                  "transform": [{"filter": "datum.c == 'NS' && datum.k == 'a'"}],
                  "mark": {"type": "area", "color": "#2a2a2a"},
                  "encoding": {
                    "x": {"field": "t", "type": "quantitative", "scale": {"domain": [50, 250], "nice": false},
                      "axis": {"title": "Time (s)", "titleFont": "Liberation Serif", "titleFontWeight": "bold", "titleFontSize": 11.5, "titlePadding": 1, "tickCount": 100, "values": [50,55,60,65,70,75,80,85,90,95,100,105,110,115,120,125,130,135,140,145,150,155,160,165,170,175,180,185,190,195,200,205,210,215,220,225,230,235,240,245,250], "labelExpr": "datum.value % 20 == 10 ? '' + datum.value : ''", "tickSize": -4, "labelPadding": 2, "labelFlush": false, "labelOverlap": false, "labelFontSize": 11.5}},
                    "y": {"field": "hi", "type": "quantitative", "scale": {"domain": [-600, 600], "nice": false},
                      "axis": {"title": "加速度（gal）", "tickCount": 100, "values": [-600,-450,-300,-150,0,150,300,450,600], "labelExpr": "datum.value % 300 == 0 ? '' + datum.value : ''", "tickSize": -4, "labelPadding": 2, "labelOverlap": false, "labelFontSize": 11.5, "titleFont": "Noto Sans CJK JP", "titleFontSize": 10, "titleFontWeight": "bold", "titlePadding": 8}},
                    "y2": {"field": "lo"}
                  }
                },
                {"data": {"values": [{}]}, "mark": {"type": "rule", "color": "#333", "strokeWidth": 0.8}, "encoding": {"y": {"datum": 0}}},
                {"data": {"values": [{}]}, "mark": {"type": "text", "font": "Noto Sans CJK JP", "fontWeight": "bold", "fontSize": 8.5, "align": "left", "baseline": "middle", "color": "#222"}, "encoding": {"x": {"datum": 57}, "y": {"datum": 650}, "text": {"value": "調整後の加速度波形"}}},
                {"data": {"values": [{}]}, "mark": {"type": "text", "font": "DejaVu Sans Mono", "fontWeight": "bold", "fontSize": 8.5, "align": "left", "baseline": "middle", "color": "#222"}, "encoding": {"x": {"datum": 57}, "y": {"datum": 478}, "text": {"value": "NS成分  Max. = 149 gal, Min=-151 gal"}}}
              ]
            }
          ]
        }
      ]
    },
    {
      "spacing": 11,
      "hconcat": [
        {
          "width": 261, "height": 261,
          "view": {"stroke": "#333", "strokeWidth": 1.2},
          "layer": [
            {
              "data": {"name": "spec"},
              "transform": [{"filter": "datum.c == 'EW' && datum.s != 'A'"}],
              "mark": {"type": "line", "color": "#333", "clip": true},
              "encoding": {
                "x": {"field": "T", "type": "quantitative", "scale": {"type": "log", "domain": [0.1, 5], "nice": false},
                  "axis": {"title": "Period (s)", "tickCount": 100, "values": [0.1,0.2,0.3,0.4,0.5,0.6,0.7,0.8,0.9,1,2,3,4,5], "labelExpr": "datum.value == 0.1 ? '0.1' : datum.value == 1 ? '1' : ''", "grid": true, "ticks": false, "labelPadding": 0, "labelOverlap": false, "titleFont": "Liberation Serif", "titleFontWeight": "bold", "titleFontSize": 11.5, "titlePadding": 5, "titleX": 147, "gridColor": "#555", "gridWidth": {"condition": {"test": "datum.value == 0.1 || datum.value == 1", "value": 1.1}, "value": 0.8}, "gridDash": {"condition": {"test": "datum.value == 0.2 || datum.value == 2", "value": [3, 2]}, "value": []}}},
                "y": {"field": "Sa", "type": "quantitative", "scale": {"type": "log", "domain": [5, 4000], "nice": false},
                  "axis": {"title": "加速度応答スペクトル（gal）", "tickCount": 100, "values": [5,6,7,8,9,10,20,30,40,50,60,70,80,90,100,200,300,400,500,600,700,800,900,1000,2000,3000,4000], "labelExpr": "datum.value == 10 ? '10¹' : datum.value == 100 ? '10²' : datum.value == 1000 ? '10³' : ''", "grid": true, "ticks": false, "labelPadding": 3, "labelOverlap": false, "labelFontWeight": "normal", "labelFontSize": 12, "titleFont": "Noto Sans CJK JP", "titleFontWeight": "bold", "titleFontSize": 11.5, "titlePadding": 4, "gridColor": "#555", "gridWidth": {"condition": {"test": "datum.value == 10 || datum.value == 100 || datum.value == 1000", "value": 1.1}, "value": 0.8}, "gridDash": {"condition": {"test": "datum.value == 20 || datum.value == 200 || datum.value == 2000", "value": [3, 2]}, "value": []}}},
                "strokeDash": {"field": "s", "type": "nominal", "scale": {"domain": ["S","E","A"], "range": [[1,0],[2,1.5],[1,0]]},
                  "legend": {"title": null, "orient": "none", "legendX": 25, "legendY": 203, "symbolType": "M-1,0H3", "symbolSize": 289, "symbolStrokeColor": "#333", "symbolFillColor": "transparent", "labelFont": "Noto Sans CJK JP", "labelFontSize": 11.5, "labelFontWeight": "bold", "labelColor": "#333", "labelOffset": 21, "labelLimit": 300, "rowPadding": 4, "padding": 0, "labelExpr": "datum.label == 'S' ? '南海・東南海地震のスペクトル' : datum.label == 'E' ? '南海・東南海地震の包絡スペクトル' : '調整後のスペクトル（入力波）'"}},
                "strokeWidth": {"field": "s", "type": "nominal", "scale": {"type": "ordinal", "domain": ["S","E","A"], "range": [2, 1.2, 3]},
                  "legend": {"title": null, "orient": "none", "legendX": 25, "legendY": 203, "symbolType": "M-1,0H3", "symbolSize": 289, "symbolStrokeColor": "#333", "symbolFillColor": "transparent", "labelFont": "Noto Sans CJK JP", "labelFontSize": 11.5, "labelFontWeight": "bold", "labelColor": "#333", "labelOffset": 21, "labelLimit": 300, "rowPadding": 4, "padding": 0, "labelExpr": "datum.label == 'S' ? '南海・東南海地震のスペクトル' : datum.label == 'E' ? '南海・東南海地震の包絡スペクトル' : '調整後のスペクトル（入力波）'"}}
              }
            },
            {
              "data": {"name": "spec"},
              "transform": [{"filter": "datum.c == 'EW' && datum.s == 'A'"}],
              "mark": {"type": "line", "color": "#333", "interpolate": "monotone", "clip": true},
              "encoding": {
                "x": {"field": "T", "type": "quantitative"},
                "y": {"field": "Sa", "type": "quantitative"},
                "strokeDash": {"field": "s", "type": "nominal", "scale": {"domain": ["S","E","A"], "range": [[1,0],[2,1.5],[1,0]]},
                  "legend": {"title": null, "orient": "none", "legendX": 25, "legendY": 203, "symbolType": "M-1,0H3", "symbolSize": 289, "symbolStrokeColor": "#333", "symbolFillColor": "transparent", "labelFont": "Noto Sans CJK JP", "labelFontSize": 11.5, "labelFontWeight": "bold", "labelColor": "#333", "labelOffset": 21, "labelLimit": 300, "rowPadding": 4, "padding": 0, "labelExpr": "datum.label == 'S' ? '南海・東南海地震のスペクトル' : datum.label == 'E' ? '南海・東南海地震の包絡スペクトル' : '調整後のスペクトル（入力波）'"}},
                "strokeWidth": {"field": "s", "type": "nominal", "scale": {"type": "ordinal", "domain": ["S","E","A"], "range": [2, 1.2, 3]},
                  "legend": {"title": null, "orient": "none", "legendX": 25, "legendY": 203, "symbolType": "M-1,0H3", "symbolSize": 289, "symbolStrokeColor": "#333", "symbolFillColor": "transparent", "labelFont": "Noto Sans CJK JP", "labelFontSize": 11.5, "labelFontWeight": "bold", "labelColor": "#333", "labelOffset": 21, "labelLimit": 300, "rowPadding": 4, "padding": 0, "labelExpr": "datum.label == 'S' ? '南海・東南海地震のスペクトル' : datum.label == 'E' ? '南海・東南海地震の包絡スペクトル' : '調整後のスペクトル（入力波）'"}}
              }
            },
            {
              "data": {"values": [{}]},
              "mark": {"type": "text", "font": "Liberation Serif", "fontWeight": "bold", "fontSize": 10.5, "align": "left", "baseline": "middle", "color": "#222"},
              "encoding": {"x": {"datum": 0.108}, "y": {"datum": 3000}, "text": {"value": "EW"}}
            }
          ]
        },
        {
          "spacing": 15,
          "vconcat": [
            {
              "width": 282, "height": 117,
              "layer": [
                {
                  "data": {"name": "wave"},
                  "transform": [{"filter": "datum.c == 'EW' && datum.k == 'o'"}],
                  "mark": {"type": "area", "color": "#2a2a2a"},
                  "encoding": {
                    "x": {"field": "t", "type": "quantitative", "scale": {"domain": [50, 250], "nice": false},
                      "axis": {"title": null, "tickCount": 100, "values": [50,55,60,65,70,75,80,85,90,95,100,105,110,115,120,125,130,135,140,145,150,155,160,165,170,175,180,185,190,195,200,205,210,215,220,225,230,235,240,245,250], "labelExpr": "datum.value % 20 == 10 ? '' + datum.value : ''", "tickSize": -4, "labelPadding": 2, "labelFlush": false, "labelOverlap": false, "labelFontSize": 11.5}},
                    "y": {"field": "hi", "type": "quantitative", "scale": {"domain": [-600, 600], "nice": false},
                      "axis": {"title": "加速度（gal）", "tickCount": 100, "values": [-600,-450,-300,-150,0,150,300,450,600], "labelExpr": "datum.value % 300 == 0 ? '' + datum.value : ''", "tickSize": -4, "labelPadding": 2, "labelOverlap": false, "labelFontSize": 11.5, "titleFont": "Noto Sans CJK JP", "titleFontSize": 10, "titleFontWeight": "bold", "titlePadding": 8}},
                    "y2": {"field": "lo"}
                  }
                },
                {"data": {"values": [{}]}, "mark": {"type": "rule", "color": "#333", "strokeWidth": 0.8}, "encoding": {"y": {"datum": 0}}},
                {"data": {"values": [{}]}, "mark": {"type": "text", "font": "Noto Sans CJK JP", "fontWeight": "bold", "fontSize": 8.5, "align": "left", "baseline": "middle", "color": "#222"}, "encoding": {"x": {"datum": 57}, "y": {"datum": 595}, "text": {"value": "南海・東南海地震の加速度波形"}}},
                {"data": {"values": [{}]}, "mark": {"type": "text", "font": "DejaVu Sans Mono", "fontWeight": "bold", "fontSize": 8.5, "align": "left", "baseline": "middle", "color": "#222"}, "encoding": {"x": {"datum": 57}, "y": {"datum": 420}, "text": {"value": "EW成分  Max. = 96  gal, Min=-139 gal"}}}
              ]
            },
            {
              "width": 282, "height": 115,
              "layer": [
                {
                  "data": {"name": "wave"},
                  "transform": [{"filter": "datum.c == 'EW' && datum.k == 'a'"}],
                  "mark": {"type": "area", "color": "#2a2a2a"},
                  "encoding": {
                    "x": {"field": "t", "type": "quantitative", "scale": {"domain": [50, 250], "nice": false},
                      "axis": {"title": "Time (s)", "titleFont": "Liberation Serif", "titleFontWeight": "bold", "titleFontSize": 11.5, "titlePadding": 1, "tickCount": 100, "values": [50,55,60,65,70,75,80,85,90,95,100,105,110,115,120,125,130,135,140,145,150,155,160,165,170,175,180,185,190,195,200,205,210,215,220,225,230,235,240,245,250], "labelExpr": "datum.value % 20 == 10 ? '' + datum.value : ''", "tickSize": -4, "labelPadding": 2, "labelFlush": false, "labelOverlap": false, "labelFontSize": 11.5}},
                    "y": {"field": "hi", "type": "quantitative", "scale": {"domain": [-600, 600], "nice": false},
                      "axis": {"title": "加速度（gal）", "tickCount": 100, "values": [-600,-450,-300,-150,0,150,300,450,600], "labelExpr": "datum.value % 300 == 0 ? '' + datum.value : ''", "tickSize": -4, "labelPadding": 2, "labelOverlap": false, "labelFontSize": 11.5, "titleFont": "Noto Sans CJK JP", "titleFontSize": 10, "titleFontWeight": "bold", "titlePadding": 8}},
                    "y2": {"field": "lo"}
                  }
                },
                {"data": {"values": [{}]}, "mark": {"type": "rule", "color": "#333", "strokeWidth": 0.8}, "encoding": {"y": {"datum": 0}}},
                {"data": {"values": [{}]}, "mark": {"type": "text", "font": "Noto Sans CJK JP", "fontWeight": "bold", "fontSize": 8.5, "align": "left", "baseline": "middle", "color": "#222"}, "encoding": {"x": {"datum": 57}, "y": {"datum": 650}, "text": {"value": "調整後の加速度波形"}}},
                {"data": {"values": [{}]}, "mark": {"type": "text", "font": "DejaVu Sans Mono", "fontWeight": "bold", "fontSize": 8.5, "align": "left", "baseline": "middle", "color": "#222"}, "encoding": {"x": {"datum": 57}, "y": {"datum": 478}, "text": {"value": "EW成分  Max. = 342 gal, Min=-386 gal"}}}
              ]
            }
          ]
        }
      ]
    }
  ]
}
